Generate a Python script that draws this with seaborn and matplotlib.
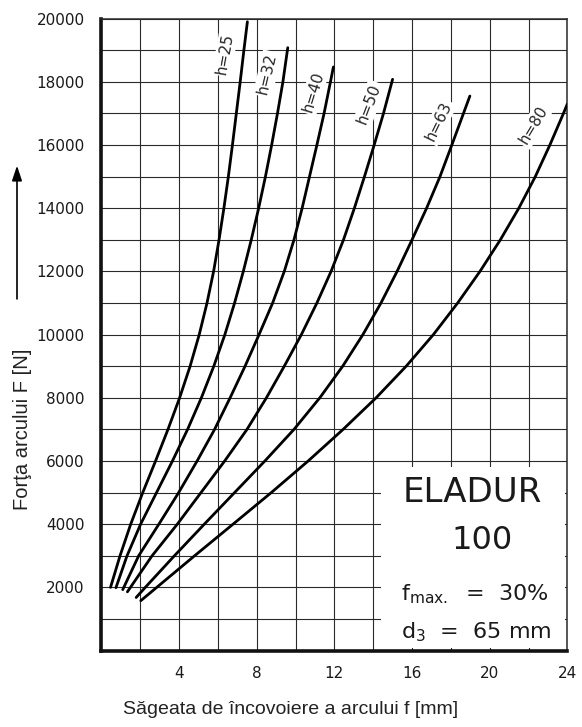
import numpy as np
import pandas as pd
import seaborn as sns
import matplotlib.pyplot as plt
from matplotlib.patches import Rectangle, FancyArrowPatch
from matplotlib.ticker import MultipleLocator, FuncFormatter

# curve data: deflection f [mm] and force F [N]
f_25 = [0.47, 0.96, 1.51, 2.13, 2.79, 3.43, 4.03, 4.57, 5.04, 5.44, 5.78, 6.06, 6.31, 6.54, 6.75, 6.95, 7.15, 7.34, 7.52]
F_25 = [2000, 3000, 4000, 5000, 6000, 7000, 8000, 9000, 10000, 11000, 12000, 13000, 14000, 15000, 16000, 17000, 18000, 19000, 19900]

f_32 = [0.75, 1.32, 2.02, 2.84, 3.66, 4.44, 5.15, 5.79, 6.36, 6.86, 7.31, 7.72, 8.1, 8.45, 8.77, 9.07, 9.35, 9.6]
F_32 = [1990, 3000, 4000, 5000, 6000, 7000, 8000, 9000, 10000, 11000, 12000, 13000, 14000, 15000, 16000, 17000, 18000, 19080]

f_40 = [1.1, 1.92, 2.96, 3.98, 4.93, 5.83, 6.63, 7.4, 8.12, 8.82, 9.42, 9.92, 10.34, 10.72, 11.1, 11.47, 11.8, 11.95]
F_40 = [1930, 3000, 4000, 5000, 6000, 7000, 8000, 9000, 10000, 11000, 12000, 13000, 14000, 15000, 16000, 17000, 18000, 18470]

f_50 = [1.34, 2.61, 3.91, 5.13, 6.35, 7.5, 8.5, 9.42, 10.3, 11.1, 11.83, 12.47, 13.03, 13.55, 14.05, 14.53, 15.0]
F_50 = [1860, 3000, 4000, 5000, 6000, 7000, 8000, 9000, 10000, 11000, 12000, 13000, 14000, 15000, 16000, 17000, 18080]

f_63 = [1.79, 2.26, 3.76, 5.3, 6.86, 8.42, 9.92, 11.25, 12.43, 13.47, 14.4, 15.23, 16.0, 16.75, 17.44, 18.05, 18.65, 18.98]
F_63 = [1680, 2000, 3000, 4000, 5000, 6000, 7000, 8000, 9000, 10000, 11000, 12000, 13000, 14000, 15000, 16000, 17000, 17550]

f_80 = [2.03, 2.85, 4.8, 6.78, 8.75, 10.65, 12.45, 14.15, 15.7, 17.1, 18.35, 19.5, 20.55, 21.5, 22.35, 23.1, 23.8, 24.0]
F_80 = [1580, 2000, 3000, 4000, 5000, 6000, 7000, 8000, 9000, 10000, 11000, 12000, 13000, 14000, 15000, 16000, 17000, 17300]

h_values = [25, 32, 40, 50, 63, 80]
label_f = [6.37, 8.55, 10.92, 13.8, 17.37, 22.26]
label_F = [18900, 18250, 17690, 17300, 16740, 16630]
label_rot = [80, 77, 73, 69, 64, 59]

curves = {25: (f_25, F_25), 32: (f_32, F_32), 40: (f_40, F_40),
          50: (f_50, F_50), 63: (f_63, F_63), 80: (f_80, F_80)}
rows = []
for h in h_values:
    for f, F in zip(*curves[h]):
        rows.append({'h': h, 'f': f, 'F': F})
df = pd.DataFrame(rows)

sns.set_style("white")
plt.rcParams['font.family'] = ['DejaVu Sans']

fig = plt.figure(figsize=(5.82, 7.27), dpi=100)
ax = fig.add_axes([0.1742, 0.1051, 0.8006, 0.8693])
ax.set_axisbelow(True)

sns.lineplot(data=df, x='f', y='F', units='h', estimator=None, sort=False,
             color='black', linewidth=2.0, ax=ax, zorder=3)

ax.set_xlim(0, 24)
ax.set_ylim(0, 20000)
ax.xaxis.set_major_locator(MultipleLocator(4))
ax.xaxis.set_minor_locator(MultipleLocator(2))
ax.yaxis.set_major_locator(MultipleLocator(2000))
ax.yaxis.set_minor_locator(MultipleLocator(1000))
ax.xaxis.set_major_formatter(FuncFormatter(lambda v, p: '' if v == 0 else f'{v:.0f}'))
ax.yaxis.set_major_formatter(FuncFormatter(lambda v, p: '' if v == 0 else f'{v:.0f}'))
ax.grid(True, which='both', color='#2a2a2a', linewidth=0.8)
ax.tick_params(which='both', direction='out', length=7, width=0.8, color='#2a2a2a',
               labelsize=11, pad=5, labelcolor='#1a1a1a')
ax.tick_params(axis='x', which='both', direction='inout', length=10, pad=6)
ax.set_xlabel('')
ax.set_ylabel('')

for side in ['left', 'bottom']:
    ax.spines[side].set_linewidth(2.6)
    ax.spines[side].set_color('#111111')
for side in ['top', 'right']:
    ax.spines[side].set_linewidth(1.1)
    ax.spines[side].set_color('#2a2a2a')

# white panel for the material legend
ax.add_patch(Rectangle((14.4, 80), 9.5, 5720, facecolor='white', edgecolor='none', zorder=1))

for h, x, y, r in zip(h_values, label_f, label_F, label_rot):
    ax.text(x, y, f'h={h}', rotation=r, ha='center', va='center', fontsize=11,
            zorder=4, bbox=dict(facecolor='white', edgecolor='none', pad=1.5))

ax.text(19.09, 5000, 'ELADUR', ha='center', va='center', fontsize=24.5, zorder=4, color='#1a1a1a')
ax.text(19.6, 3470, '100', ha='center', va='center', fontsize=23, zorder=4, color='#1a1a1a')
ax.text(15.45, 1600, r'f$_{\mathregular{max.}}$  =  30%', ha='left', va='baseline',
        fontsize=16, zorder=4, color='#1a1a1a')
ax.text(15.45, 400, r'd$_{\mathregular{3}}$  =  65 mm', ha='left', va='baseline',
        fontsize=16, zorder=4, color='#1a1a1a')

fig.text(0.5, 0.0234, 'Săgeata de încovoiere a arcului f [mm]', ha='center', va='center',
         fontsize=14, family='Liberation Sans', color='#222222')
fig.text(0.0395, 0.41, 'Forţa arcului F [N]', rotation=90, ha='center', va='center',
         fontsize=14.5, family='Liberation Sans', color='#222222')
fig.patches.append(FancyArrowPatch(
    (0.0292, 0.585), (0.0292, 0.776), transform=fig.transFigure,
    arrowstyle='-|>,head_length=9,head_width=3', color='black', linewidth=1.2))

fig.savefig('out.png', dpi=100)
